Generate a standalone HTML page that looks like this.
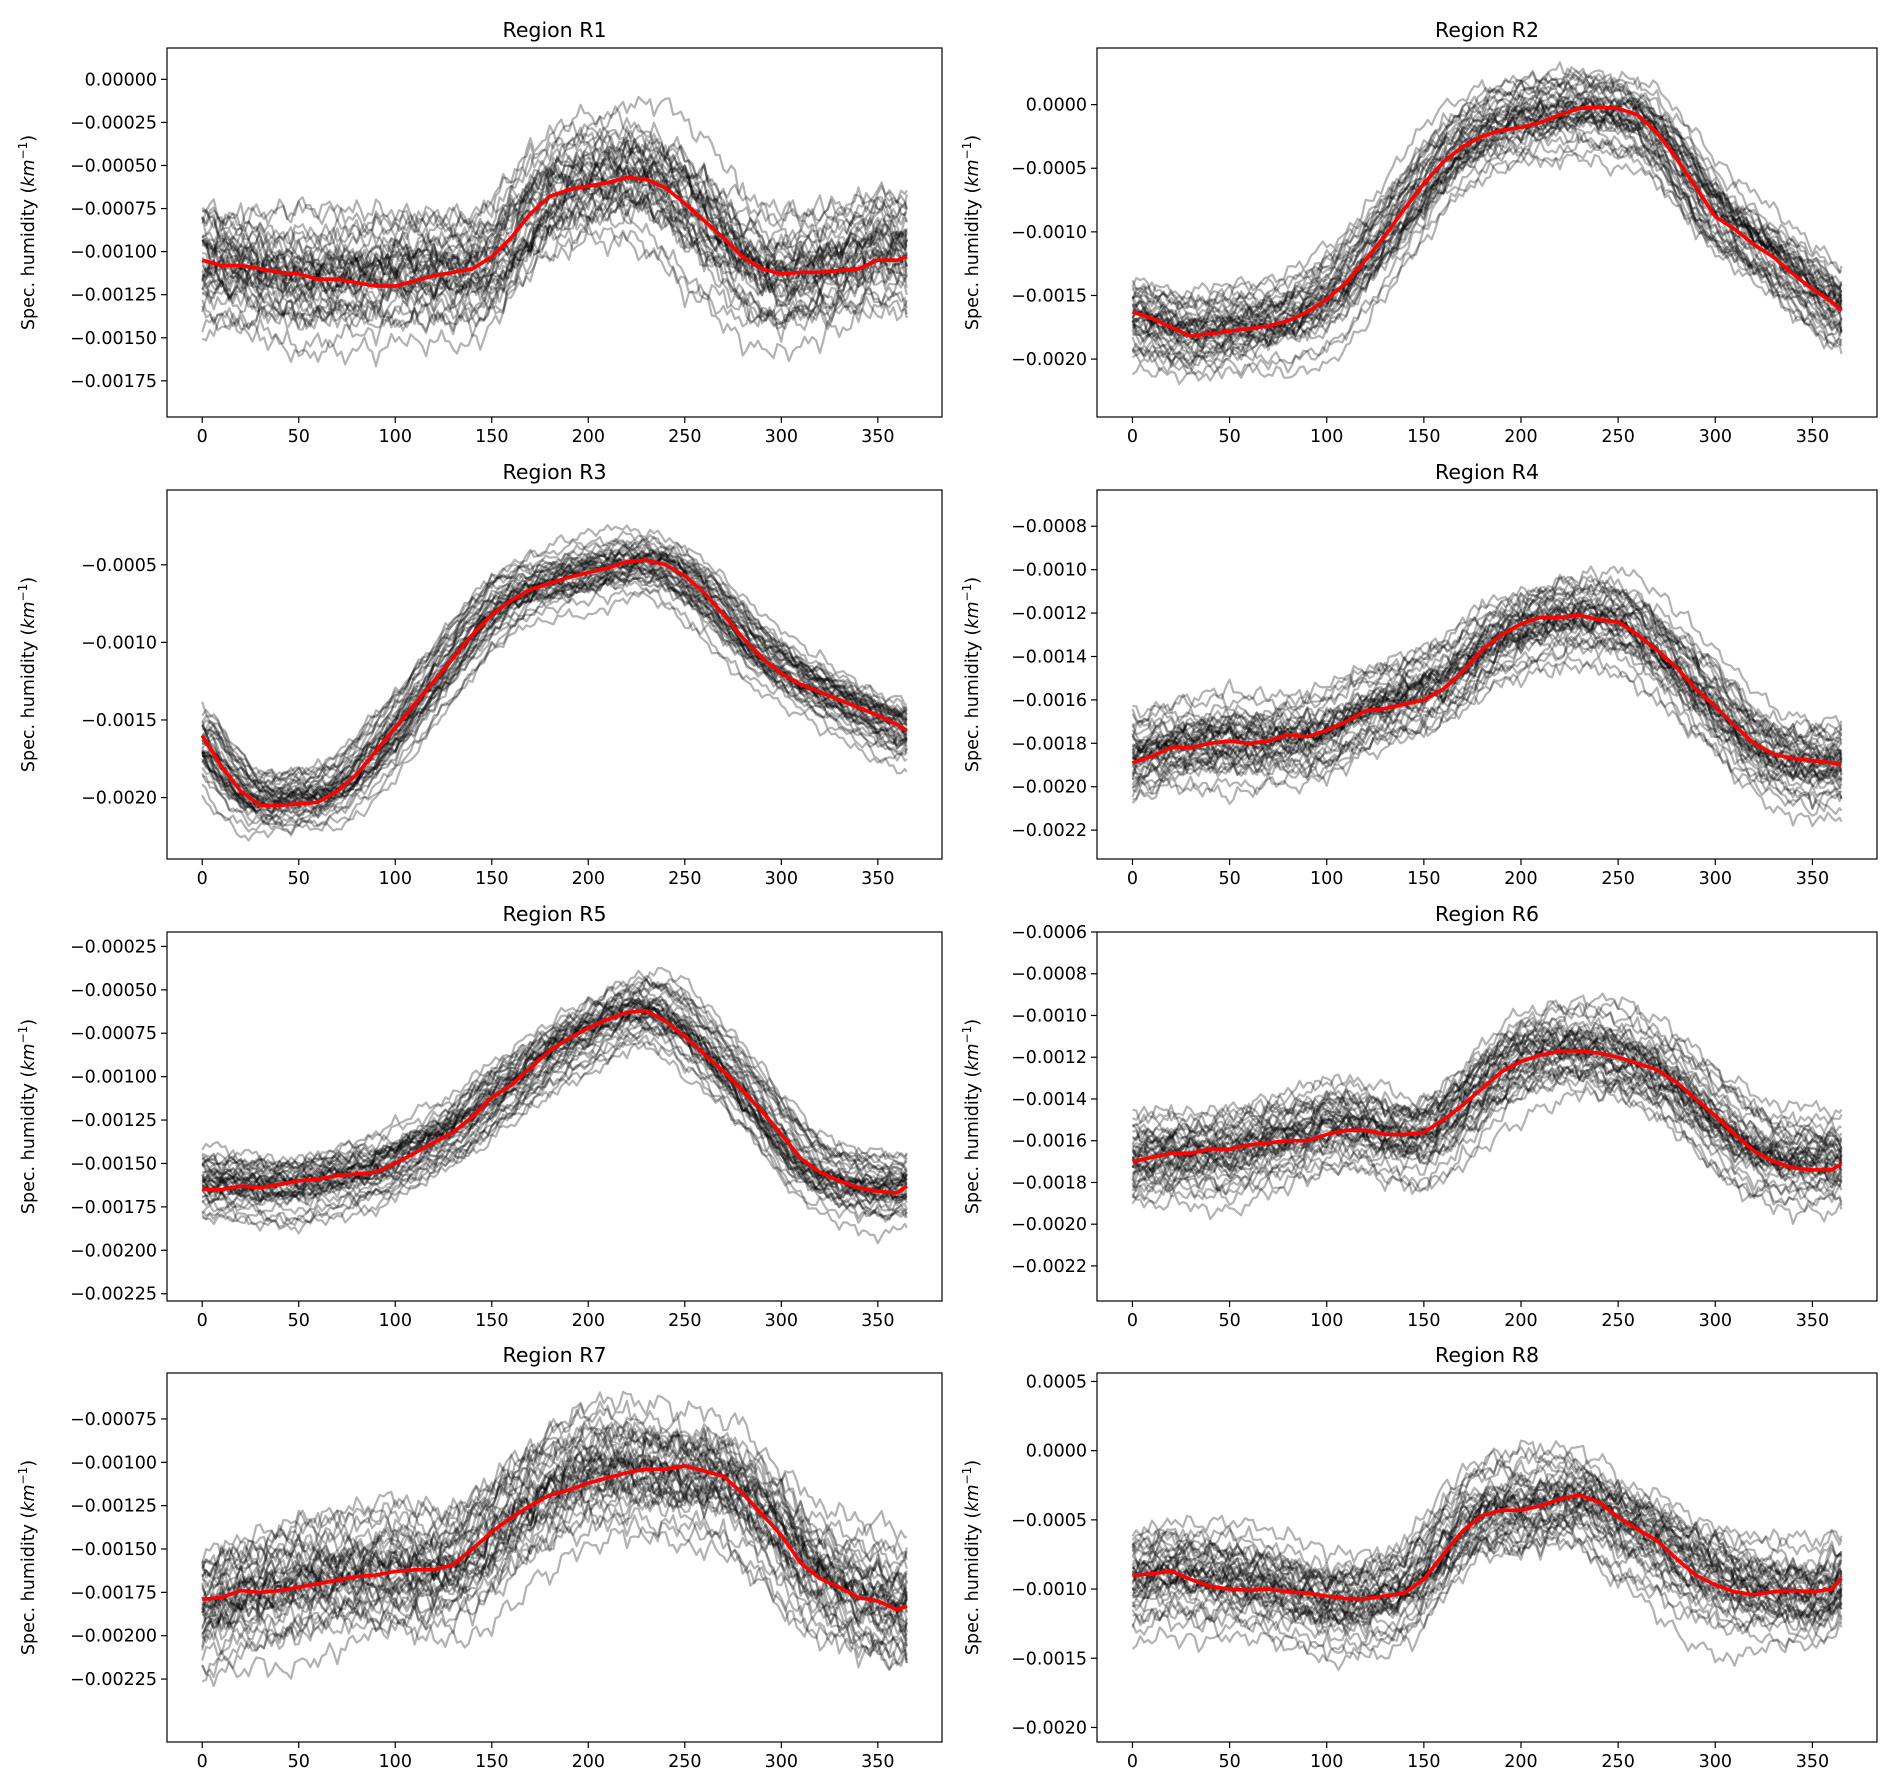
<!DOCTYPE html>
<html><head><meta charset="utf-8">
<style>
html,body{margin:0;padding:0;background:#fff;}
svg{display:block;font-family:"DejaVu Sans","Liberation Sans",sans-serif;}
</style></head>
<body>
<svg id="fig" width="1892" height="1792" viewBox="0 0 1892 1792" xmlns="http://www.w3.org/2000/svg"></svg>
<script>
const titles = ["Region R1","Region R2","Region R3","Region R4","Region R5","Region R6","Region R7","Region R8"];
const meanDays = [0,10,20,30,40,50,60,70,80,90,100,110,120,130,140,150,160,170,180,190,200,210,220,230,240,250,260,270,280,290,300,310,320,330,340,350,360,365];
const meanR1 = [-0.00105,-0.00108,-0.00108,-0.00110,-0.00112,-0.00113,-0.00116,-0.00116,-0.00118,-0.00120,-0.00120,-0.00117,-0.00114,-0.00112,-0.00110,-0.00103,-0.00092,-0.00078,-0.00068,-0.00064,-0.00062,-0.00060,-0.00057,-0.00058,-0.00063,-0.00072,-0.00082,-0.00092,-0.00103,-0.00110,-0.00113,-0.00112,-0.00112,-0.00111,-0.00110,-0.00105,-0.00105,-0.00103];
const meanR2 = [-0.00163,-0.00168,-0.00175,-0.00182,-0.00180,-0.00178,-0.00176,-0.00174,-0.00170,-0.00163,-0.00153,-0.00140,-0.00122,-0.00103,-0.00082,-0.00062,-0.00045,-0.00033,-0.00025,-0.00020,-0.00018,-0.00014,-0.00008,-0.00003,-0.00002,-0.00003,-0.00008,-0.00022,-0.00042,-0.00065,-0.00088,-0.00098,-0.00110,-0.00120,-0.00133,-0.00145,-0.00155,-0.00162];
const meanR3 = [-0.00160,-0.00180,-0.00196,-0.00205,-0.00205,-0.00204,-0.00203,-0.00196,-0.00185,-0.00170,-0.00155,-0.00140,-0.00125,-0.00110,-0.00095,-0.00082,-0.00073,-0.00066,-0.00062,-0.00058,-0.00055,-0.00052,-0.00048,-0.00047,-0.00050,-0.00057,-0.00068,-0.00082,-0.00097,-0.00110,-0.00120,-0.00127,-0.00132,-0.00137,-0.00142,-0.00147,-0.00153,-0.00157];
const meanR4 = [-0.00189,-0.00186,-0.00182,-0.00182,-0.00180,-0.00179,-0.00180,-0.00179,-0.00176,-0.00177,-0.00174,-0.00170,-0.00165,-0.00164,-0.00162,-0.00160,-0.00155,-0.00147,-0.00137,-0.00130,-0.00125,-0.00122,-0.00122,-0.00121,-0.00123,-0.00124,-0.00130,-0.00137,-0.00145,-0.00155,-0.00163,-0.00172,-0.00180,-0.00185,-0.00187,-0.00188,-0.00189,-0.00190];
const meanR5 = [-0.00165,-0.00165,-0.00163,-0.00164,-0.00162,-0.00160,-0.00159,-0.00157,-0.00156,-0.00155,-0.00150,-0.00144,-0.00138,-0.00132,-0.00123,-0.00112,-0.00105,-0.00095,-0.00085,-0.00078,-0.00072,-0.00067,-0.00063,-0.00062,-0.00068,-0.00077,-0.00087,-0.00097,-0.00108,-0.00120,-0.00133,-0.00147,-0.00155,-0.00160,-0.00164,-0.00166,-0.00167,-0.00163];
const meanR6 = [-0.00170,-0.00168,-0.00166,-0.00166,-0.00164,-0.00164,-0.00162,-0.00161,-0.00160,-0.00160,-0.00157,-0.00155,-0.00155,-0.00157,-0.00157,-0.00156,-0.00150,-0.00143,-0.00135,-0.00127,-0.00122,-0.00119,-0.00117,-0.00117,-0.00118,-0.00120,-0.00123,-0.00126,-0.00132,-0.00140,-0.00148,-0.00157,-0.00165,-0.00170,-0.00173,-0.00174,-0.00174,-0.00171];
const meanR7 = [-0.00179,-0.00178,-0.00174,-0.00175,-0.00174,-0.00172,-0.00170,-0.00168,-0.00166,-0.00165,-0.00163,-0.00162,-0.00162,-0.00159,-0.00150,-0.00140,-0.00132,-0.00125,-0.00119,-0.00116,-0.00112,-0.00109,-0.00106,-0.00104,-0.00104,-0.00102,-0.00105,-0.00108,-0.00118,-0.00130,-0.00142,-0.00158,-0.00167,-0.00172,-0.00178,-0.00180,-0.00185,-0.00183];
const meanR8 = [-0.00090,-0.00089,-0.00087,-0.00093,-0.00098,-0.00100,-0.00101,-0.00100,-0.00102,-0.00103,-0.00105,-0.00107,-0.00107,-0.00105,-0.00103,-0.00093,-0.00075,-0.00058,-0.00047,-0.00043,-0.00043,-0.00040,-0.00035,-0.00032,-0.00037,-0.00048,-0.00057,-0.00065,-0.00078,-0.00090,-0.00097,-0.00102,-0.00104,-0.00102,-0.00101,-0.00102,-0.00100,-0.00092];
const spreads = [0.00022,0.00020,0.00012,0.00012,0.00012,0.00013,0.00022,0.00022];
const yTop = [0.000182,0.000445,-0.000018,-0.000633,-0.000167,-0.0006,-0.000485,0.000561];
const yBot = [-0.00196,-0.002455,-0.002396,-0.002333,-0.002292,-0.002368,-0.002613,-0.002105];
const yTickStart = [0.0,0.0,-0.0005,-0.0008,-0.00025,-0.0006,-0.00075,0.0005];
const yTickEnd = [-0.00175,-0.0020,-0.0020,-0.0022,-0.00225,-0.0022,-0.00225,-0.0020];
const yTickStep = [0.00025,0.0005,0.0005,0.0002,0.00025,0.0002,0.00025,0.0005];
const yDecimals = [5,4,4,4,5,4,5,4];
const xTicks = [0,50,100,150,200,250,300,350];
const memberOffsets = [-1.8,-1.5,-1.3,-1.1,-1.0,-0.9,-0.8,-0.7,-0.6,-0.5,-0.45,-0.4,-0.3,-0.25,-0.2,-0.15,-0.1,-0.05,0.0,0.05,0.1,0.15,0.2,0.25,0.3,0.35,0.4,0.5,0.55,0.6,0.7,0.8,0.9,1.0,1.1,1.25,1.4,1.6,1.9,-2.1];
const wiggle = [0.3,-0.5,0.8,-0.2,0.1,-0.9,0.6,0.4,-0.3,0.7,-0.8,0.2,0.5,-0.6,-0.1,0.9,-0.4,0.3,-0.7,0.6,0.0,-0.5,0.8,-0.9,0.4,0.2,-0.3,0.7,-0.6,0.1,0.5,-0.8,0.9,-0.2,-0.4,0.6,-0.7,0.3,0.2,-0.5,0.8,-0.1,-0.6,0.4,0.7,-0.9,0.1,0.5,-0.3,0.6,-0.8,0.2,0.9,-0.4,-0.2,0.3,-0.6,0.7,-0.1,0.4];
const means = [meanR1,meanR2,meanR3,meanR4,meanR5,meanR6,meanR7,meanR8];

const NS = "http://www.w3.org/2000/svg";
const fig = document.getElementById('fig');
const colLeft = [167,1097], colW = [775,780], rowTop = [48,490,932,1373], axH = 369;
function mk(tag, attrs, parent){ const e=document.createElementNS(NS,tag); for(const k in attrs) e.setAttribute(k,attrs[k]); (parent||fig).appendChild(e); return e; }
function interp(arr, d){
  if(d<=meanDays[0]) return arr[0];
  for(let i=0;i<meanDays.length-1;i++){ if(d<=meanDays[i+1]){ const t=(d-meanDays[i])/(meanDays[i+1]-meanDays[i]); return arr[i]+(arr[i+1]-arr[i])*t; } }
  return arr[arr.length-1];
}
function wig(f){ const N=wiggle.length; const i=Math.floor(f), t=f-i; const a=wiggle[((i%N)+N)%N], b=wiggle[(((i+1)%N)+N)%N]; return a+(b-a)*t; }
function fmt(v,dec){ let s=Math.abs(v).toFixed(dec); if(v< -1e-12) s='\u2212'+s; return s; }

for(let p=0;p<8;p++){
  const col=p%2, row=Math.floor(p/2);
  const L=colLeft[col], W=colW[col], T=rowTop[row], H=axH;
  const xs = d => L + (d+18.25)/401.5*W;
  const ys = v => T + (yTop[p]-v)/(yTop[p]-yBot[p])*H;
  const g = mk('g',{});
  
  
  const cp = mk('clipPath',{id:'cp'+p},g); mk('rect',{x:L,y:T,width:W,height:H},cp);
  const lines = mk('g',{'clip-path':'url(#cp'+p+')'},g);
  
  
  for(let m=0;m<memberOffsets.length;m++){
    let pts=[];
    const shift = wiggle[(m*11+p*5)%wiggle.length]*10;
    for(let k=0;k*2<=366;k++){
      const d=Math.min(k*2,365);
      const slow = wig(k/25+5*m+p*3);
      const v = interp(means[p],d+shift) + spreads[p]*(memberOffsets[m]*0.85 + 0.7*slow + 0.35*wig(k/2.5+13*m+p*7) + 0.18*wiggle[(k+7*m)%wiggle.length]);
      pts.push(xs(d).toFixed(1)+','+ys(v).toFixed(1));
    }
    const pl=mk('polyline',{points:pts.join(' '),fill:'none',stroke:'#000','stroke-opacity':'0.3','stroke-width':'2.2','stroke-linejoin':'round'},lines);
    
    
  }
  const mpts = meanDays.map((d,i)=>xs(d).toFixed(1)+','+ys(means[p][i]).toFixed(1));
  const ml=mk('polyline',{points:mpts.join(' '),fill:'none',stroke:'#ff0000','stroke-width':'3.6','stroke-linejoin':'round'},lines);
  
  
  const fr=mk('rect',{x:L,y:T,width:W,height:H,fill:'none',stroke:'#000','stroke-width':'1.2'},g);
  
  
  for(const t of xTicks){
    const x=xs(t);
    mk('line',{x1:x,x2:x,y1:T+H,y2:T+H+6,stroke:'#000','stroke-width':'1.2'},g);
    const tx=mk('text',{x:x,y:T+H+25,'text-anchor':'middle','font-size':'17.5'},g); tx.textContent=t;
    
    
  }
  const step=yTickStep[p];
  const nT=Math.round((yTickStart[p]-yTickEnd[p])/step);
  for(let i=0;i<=nT;i++){
    const v=yTickStart[p]-i*step, y=ys(v);
    mk('line',{x1:L-6,x2:L,y1:y,y2:y,stroke:'#000','stroke-width':'1.2'},g);
    const ty=mk('text',{x:L-10,y:y+6,'text-anchor':'end','font-size':'17.5'},g); ty.textContent=fmt(v,yDecimals[p]);
    
    
  }
  const tt=mk('text',{x:L+W/2,y:T-11,'text-anchor':'middle','font-size':'20.5'},g); tt.textContent=titles[p];
  
  
  const lx = col===0?34:978;
  const yl=mk('text',{x:lx,y:T+H/2,'text-anchor':'middle','font-size':'17.5',transform:'rotate(-90 '+lx+' '+(T+H/2)+')'},g);
  
  
  yl.appendChild(document.createTextNode('Spec. humidity ('));
  const ts=mk('tspan',{'font-style':'italic'},yl); ts.textContent='km';
  const sup=mk('tspan',{'font-size':'12',dy:'-7'},yl); sup.textContent='\u22121';
  const cl=mk('tspan',{dy:'7'},yl); cl.textContent=')';
}
</script>
</body></html>
